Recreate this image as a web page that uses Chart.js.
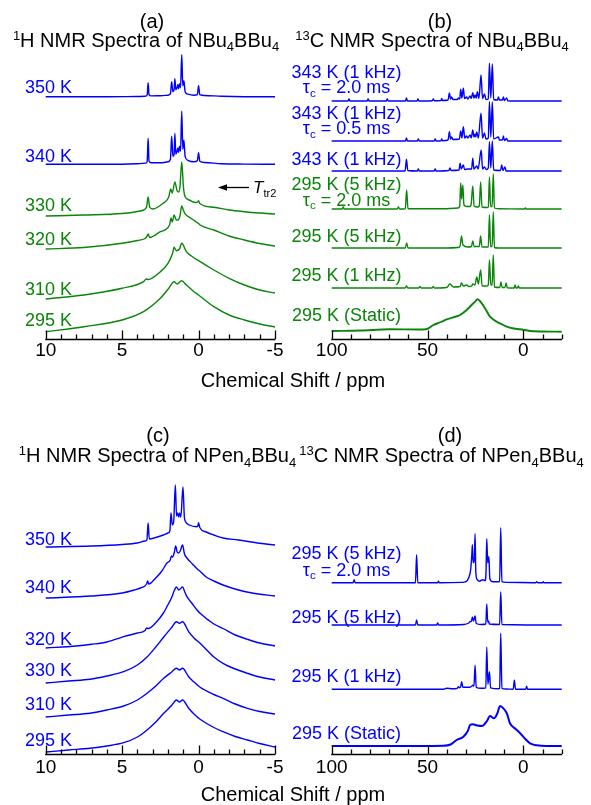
<!DOCTYPE html>
<html>
<head>
<meta charset="utf-8">
<script src="https://cdn.jsdelivr.net/npm/chart.js@4.4.1/dist/chart.umd.min.js"></script>
<style>
  body { margin: 0; width: 591px; height: 805px; background: #fff; position: relative; overflow: hidden;
         font-family: "Liberation Sans", Arial, sans-serif; }
  canvas { position: absolute; }
  .t { position: absolute; white-space: nowrap; }
  .t sub, .t sup { font-size: 0.65em; line-height: 0; position: relative; vertical-align: baseline; }
  .t sup { top: -0.55em; }
  .t sub { top: 0.32em; }
</style>
</head>
<body>
<canvas id="cA" width="290" height="319" style="left:15px;top:50px"></canvas>
<canvas id="cB" width="285" height="319" style="left:306px;top:50px"></canvas>
<canvas id="cC" width="290" height="314" style="left:15px;top:470px"></canvas>
<canvas id="cD" width="285" height="314" style="left:306px;top:470px"></canvas>
<svg width="591" height="805" style="position:absolute;left:0;top:0">
  <line x1="249" y1="187.5" x2="225" y2="187.5" stroke="#000" stroke-width="1.3"/>
  <polygon points="218,187.5 227,184.3 227,190.7" fill="#000"/>
</svg>
<script>
// ---- data: ppm axis ticks ----
const ticksH = [10, 5, 0, -5];
const ticksC = [100, 50, 0];

// ---- (a) 1H NBu4BBu4 : [ppm, intensity] ----
const labelsA = ['350 K', '340 K', '330 K', '320 K', '310 K', '295 K'];
const offsetsA = [242.3, 174.7, 123, 90, 40, 7.3];
const a350 = [[10,0],[6,0],[4,0.2],[3.45,0.6],[3.36,2],[3.3,14],[3.24,2],[3.1,0.8],[2.5,1],[2.0,1.5],[1.84,3],[1.76,15],[1.68,5],[1.6,7],[1.55,18],[1.49,7],[1.41,9],[1.36,12],[1.31,8],[1.25,13],[1.18,9],[1.1,42],[1.03,11],[0.96,16],[0.88,5],[0.7,2.5],[0.3,1.5],[0.08,2],[0,11],[-0.08,2],[-0.4,1.2],[-1.5,0.4],[-3,0],[-5,0]];
const a340 = [[10,0],[6,0],[4,0.5],[3.45,1.2],[3.36,3],[3.3,26],[3.24,3],[3.1,1.5],[2.5,1.5],[2.0,2.5],[1.84,5],[1.76,28],[1.68,8],[1.6,10],[1.55,31],[1.49,10],[1.41,13],[1.36,16],[1.31,12],[1.25,18],[1.18,13],[1.1,53],[1.03,15],[0.96,24],[0.88,8],[0.7,4],[0.3,2.5],[0.08,3.5],[0,11.5],[-0.08,3],[-0.4,1.8],[-1.5,0.6],[-3,0.2],[-5,0]];
const a330 = [[10,0],[7.5,1],[5,2.5],[4,4.5],[3.6,6],[3.4,9],[3.3,19],[3.2,9],[3.0,7],[2.3,13],[1.95,19],[1.82,27],[1.72,23],[1.55,34],[1.4,25],[1.3,24],[1.22,29],[1.1,54],[1.0,31],[0.9,20],[0.6,16],[0.2,13.5],[0.06,14],[0,15.3],[-0.08,12.5],[-1,8.7],[-2,6],[-3,4.3],[-4,3],[-5,2]];
const a320 = [[10,0],[7.5,1.5],[5,5.7],[4,8.5],[3.5,10.5],[3.38,12.5],[3.3,15],[3.2,11.5],[2.5,17.3],[1.9,24],[1.8,31],[1.72,27],[1.6,34],[1.45,29],[1.35,29],[1.22,33],[1.1,43],[1.0,39],[0.9,35.7],[0.5,30.7],[0.05,26],[0,25.5],[-0.1,24],[-1,19],[-2,13],[-3,9],[-4,5.5],[-5,3]];
const a310 = [[10,0],[7.5,4],[5,10.7],[3.6,17.3],[3.42,20],[3.3,19.5],[2.5,27.3],[2.0,35.7],[1.7,45.7],[1.6,51.7],[1.45,48.3],[1.25,50],[1.1,55.7],[0.8,47.3],[0.4,42.3],[0,38.3],[-1,29],[-2,20.7],[-3,14],[-4,9],[-5,6]];
const a295 = [[10,0],[7.5,5],[5,11.7],[3.6,20],[2.5,33.4],[2.0,42.4],[1.6,50],[1.4,47.7],[1.1,51],[0.8,46.7],[0.3,40],[0,36.7],[-1,25],[-2,16.7],[-3,11.7],[-4,7.7],[-5,4.7]];

// ---- (b) 13C NBu4BBu4 ----
const labelsB = ['343 K (1 kHz)', 'τ<sub>c</sub> = 2.0 ms', '343 K (1 kHz)', 'τ<sub>c</sub> = 0.5 ms', '343 K (1 kHz)',
                 '295 K (5 kHz)', 'τ<sub>c</sub> = 2.0 ms', '295 K (5 kHz)', '295 K (1 kHz)', '295 K (Static)'];
const offsetsB = [238, 198, 168, 130, 91, 51, 8];
const b1 = [[100,0],[91.5,0],[91,2],[90.5,0],[81.5,0],[81,2],[80.5,0],[71.5,0],[71,2],[70.5,0],[61.5,0],[61,3],[60.5,0],[55.5,0],[55,2],[54.5,0],[47.5,0.3],[47,2],[46.5,0.3],[43,0.5],[42.6,2.5],[42.2,0.5],[39.3,1],[38.6,8],[38,2],[37.4,4],[36.8,1.5],[34.4,1.5],[33.9,3],[33.2,2],[32.7,11.7],[32.1,3],[31.3,12.7],[30.7,2.5],[29.6,4],[29,2],[27.8,5],[27.2,2.5],[26.4,8.3],[25.8,3],[25.2,6],[24.6,3],[24,9.3],[23.2,2.5],[22.1,26],[21.3,2.5],[20.3,7],[19.5,1.5],[18.3,2],[17.7,37.7],[17,3],[16.2,37],[15.5,1.5],[13.5,1],[13,4],[12.5,1],[10.9,1],[10.4,4],[9.9,0.5],[8.7,3],[8.2,0.3],[0,0],[-20,0]];
const b2 = [[100,0],[61.5,0],[61,3],[60.5,0],[55.3,0],[54.8,2],[54.3,0],[46.5,0],[46,2],[45.5,0],[43,0.3],[42.6,2],[42.2,0.3],[39.3,1],[38.6,9.3],[38,2],[37.4,4],[36.8,1.5],[33.4,2],[32.7,10],[32.1,3],[31.3,14.3],[30.6,3],[29.6,5],[29,3],[27.8,6],[27.2,3],[26.4,11],[25.8,4],[25.2,7],[24.8,4],[24.3,9],[23.5,3],[22.1,27.7],[21.3,3],[20.3,8],[19.5,2],[18.3,3],[17.7,39.3],[17,4],[16.2,39],[15.5,2],[13,4],[12.5,1],[10.9,1],[10.4,5],[9.9,0.5],[8.7,2.5],[8.2,0],[-20,0]];
const b3 = [[100,0],[61.7,0],[61,11.7],[60.3,0.5],[55.3,0],[54.8,2],[54.3,0],[46.5,0],[46,2],[45.5,0],[38.9,0.5],[38.3,3],[37.7,0.5],[33.6,1],[33,7.7],[32.4,2],[31.3,6],[30.7,1.5],[29,2],[27,2],[26.4,12.7],[25.8,2],[24.3,5],[23.6,2],[22,21],[21.3,2],[20.3,4],[19.3,1.5],[18.3,3],[17.7,29.3],[17,3],[16.2,30],[15.5,1],[11.9,0.5],[11.3,6],[10.7,0.5],[9.6,4],[9,0],[-20,0]];
const b4 = [[100,0],[94.5,0],[94,2],[93.5,0],[65.8,0],[65.2,2],[64.6,0],[61.6,0.3],[60.9,19],[60.2,0.3],[40,0.3],[34,1],[33.2,3],[32.7,26],[32.2,10],[31.6,24],[31,4],[29.5,2.5],[28,2.5],[27.3,4],[26.4,23],[25.7,3],[24,2],[23,3],[22.3,27],[21.6,2],[19,1.5],[18.3,2],[17.7,32],[17.1,2.5],[16.3,2.5],[15.7,35],[15.1,1],[13,0.3],[0,0],[-0.5,0],[-1,1],[-1.5,0],[-20,0]];
const b5 = [[100,0],[61.6,0],[60.9,5],[60.2,0],[40,0],[34,0.5],[33,2],[32.3,12],[31.5,3],[29,1],[27.1,1.5],[26.4,7],[25.7,1.5],[23,1.5],[22.3,12],[21.6,1],[18.3,1],[17.7,33],[17.1,1.5],[16.3,1.5],[15.7,36],[15.1,0.5],[13,0],[-20,0]];
const b6 = [[100,0],[61.7,0],[61,2],[60.3,0],[54.6,0],[54,1.5],[53.4,0],[47.6,0],[47,1.5],[46.4,0],[40,0.5],[38.3,4],[36.5,1],[33,1.5],[32.3,5],[31.3,2],[29.6,3],[28.5,1.5],[27,2],[26.4,4],[25.3,3],[24.3,11],[23.5,4],[22.3,18],[21.5,2],[19,2],[18.3,3],[17.7,28],[17,3],[16.3,3],[15.7,33],[15.1,1],[12.3,0.5],[11.7,6],[11.1,0.5],[9.6,0.5],[9,5],[8.4,0.3],[4.8,0],[4.3,3],[3.8,0],[3.1,0],[2.6,2],[2.1,0],[-20,0]];
const b7 = [[100,0],[85,0.5],[69.6,1.7],[55,1.5],[50.8,1.7],[47,6],[43,9],[40,11.7],[36.5,13.7],[33,16],[29.6,21],[27,26],[25.2,29.3],[24,31.7],[21.7,27.7],[19.5,21],[17.4,14.3],[13.9,9.3],[11,6.5],[8.7,4.3],[5,2.5],[1.7,1.7],[-3.5,0],[-10,-0.5],[-20,-0.7]];

// ---- (c) 1H NPen4BBu4 ----
const labelsC = ['350 K', '340 K', '320 K', '330 K', '310 K', '295 K'];
const offsetsC = [207, 156, 106, 71, 37, 2];
const c350 = [[10,0],[7,1],[5,2.5],[4,4],[3.5,6],[3.38,7],[3.3,24],[3.22,8],[2.8,9.5],[2.3,12],[2.0,14],[1.88,16],[1.8,34],[1.72,22],[1.63,25],[1.52,62],[1.44,31],[1.36,34],[1.3,30],[1.24,34],[1.16,30],[1.02,60],[0.93,30],[0.85,25.3],[0.6,22],[0.15,20.3],[0.05,21],[0,24.3],[-0.08,19.5],[-0.5,15],[-1,12],[-1.6,9],[-2.6,7],[-4,3.7],[-5,2]];
const c340 = [[10,0],[7,2],[5,5],[4.2,8],[3.8,10],[3.4,14],[3.33,17],[3.26,14],[2.8,20],[2.4,27],[2.07,35],[1.85,38],[1.78,42],[1.7,41],[1.58,46],[1.5,52],[1.4,46],[1.3,45],[1.2,47],[1.05,53],[0.92,44],[0.76,40],[0.4,34],[0.05,28.5],[0,28],[-0.5,21],[-1,17],[-1.6,13],[-2.5,8.5],[-3.5,5],[-5,2]];
const c320 = [[10,0],[8,2],[7,3.7],[6,6],[4.9,11.3],[4,15],[3.5,17.5],[3.4,20],[3.3,19.5],[2.7,27],[2.3,35],[2.07,41.3],[1.74,51.3],[1.6,57],[1.45,61],[1.3,58],[1.2,59],[1.05,61],[0.9,56],[0.76,51.3],[0.4,44],[0.1,38],[-0.1,34.7],[-1,24],[-1.6,19.5],[-2.4,13],[-3.2,8.7],[-4,5],[-5,2]];
const c330 = [[10,0],[8.5,2],[7.1,3.7],[6,7],[4.9,11.3],[4,18],[3.37,26],[2.8,36],[2.28,46],[1.74,56],[1.45,61.3],[1.25,59.5],[1.05,61.3],[0.65,51.3],[0.3,45],[-0.1,39.7],[-1,26],[-1.6,19.7],[-2.4,14],[-3.2,9.7],[-4,6],[-5,3]];
const c310 = [[10,0],[8.5,2],[7.1,3.7],[6,7],[4.9,11],[4,17],[3.37,23.7],[2.8,31],[2.28,38.7],[1.74,45.3],[1.45,48.7],[1.25,47],[1.05,48.7],[0.65,40.3],[0.3,35],[-0.1,29.7],[-1,22.5],[-1.6,18.7],[-2.4,13],[-3.2,8.7],[-4,5.5],[-5,3]];
const c295 = [[10,0],[8.5,2],[7.1,3.7],[6,6],[4.9,9.3],[4,15],[3.37,22],[2.8,30],[2.28,38.7],[1.74,47],[1.45,52],[1.25,50],[1.05,52],[0.65,43.7],[0.3,38],[-0.1,32.7],[-1,24.5],[-1.6,20.3],[-2.4,15.5],[-3.2,12],[-4,8.5],[-5,5]];

// ---- (d) 13C NPen4BBu4 ----
const labelsD = ['295 K (5 kHz)', 'τ<sub>c</sub> = 2.0 ms', '295 K (5 kHz)', '295 K (1 kHz)', '295 K (Static)'];
const offsetsD = [171.3, 129, 64.7, 8];
const d1 = [[100,0],[88.8,0],[88.3,3],[87.8,0],[56.3,0],[55.7,28],[55.1,0],[44.8,0],[44.3,1.5],[43.8,0],[32,0.3],[30,1],[28.5,5],[27.5,13],[26.9,28],[26.6,38],[26.2,20],[25.6,22],[25.2,49],[24.8,10],[24,3],[22.9,1.5],[21.2,3],[20,2],[19.5,10],[19.1,44],[18.6,20],[18,26],[17.5,4],[16,1],[12.4,1],[11.8,55],[11.2,1],[9,0.3],[-6.5,0],[-7,1],[-7.5,0],[-10,0],[-10.4,1],[-10.8,0],[-20,0]];
const d2 = [[100,0],[56.3,0],[55.7,5],[55.1,0],[45.2,0],[44.7,2],[44.2,0],[31,0.5],[28.5,2],[27.8,3.3],[27.1,4],[26.6,8],[26,4],[25.2,9],[24.6,1.5],[22,0.5],[19.6,1],[19.1,21],[18.6,3],[18.2,4],[17.7,1],[12.4,0.5],[11.8,33],[11.2,0.5],[-20,0]];
const d3 = [[100,0],[42,0],[40,1],[37,0.5],[34.5,1],[33.9,2.7],[33.3,1.5],[32.7,2.5],[32.2,7.7],[31.6,2],[28,2],[27,3],[26.4,4],[25.8,3],[25.2,24],[24.6,2],[22,1],[19.6,1.5],[19.1,42],[18.5,5],[17.7,17.7],[17.1,1.5],[13,0.5],[12.4,1],[11.8,56],[11.2,1],[9,0.3],[5.3,0],[4.7,9],[4.1,0],[-1.2,0],[-1.7,3],[-2.2,0],[-20,0]];
const d4 = [[100,0],[70,0],[41.7,0.3],[38,1.5],[34.8,6],[31.3,9.3],[29,15],[27.8,21],[26.4,21.7],[24,20.5],[21.7,20],[19,25],[17.4,30],[15.3,27.7],[13.5,33],[12.2,40],[10.4,37.7],[8.5,32],[7,22.7],[4,17],[1.7,12.7],[-1,7],[-3.5,2.7],[-7,0.7],[-12,0],[-20,0]];

// ---- styles ----
const BLUE = '#0000ff';
const GREEN = '#0a850a';
const FONT = '"Liberation Sans", Arial, sans-serif';

// draws the inward tick marks and the axis line on the x scale
const axisTicks = {
    id: 'axisTicks',
    afterDraw(chart, args, opts) {
        const s = chart.scales.x;
        const ctx = chart.ctx;
        const y = chart.chartArea.bottom;
        ctx.save();
        ctx.strokeStyle = '#000';
        ctx.lineWidth = 1.3;
        ctx.beginPath();
        ctx.moveTo(chart.chartArea.left - 0.5, y + 0.5);
        ctx.lineTo(chart.chartArea.right + 0.5, y + 0.5);
        for (let v = opts.min; v <= opts.max + 1e-9; v += opts.step) {
            const x = Math.round(s.getPixelForValue(v)) + 0.5;
            const len = Math.abs(v % opts.major) < 1e-9 ? 8.5 : 4.5;
            ctx.moveTo(x, y);
            ctx.lineTo(x, y - len);
        }
        ctx.stroke();
        ctx.restore();
    }
};

function makePanel(id, traces, offsets, colors, cfg) {
    const canvas = document.getElementById(id);
    const datasets = traces.map((tr, i) => ({
        data: tr.map(([x, y]) => ({ x, y: y + offsets[i] })),
        borderColor: colors[i],
        borderWidth: cfg.widths ? cfg.widths[i] : 1.4,
        pointRadius: 0,
        fill: false,
        clip: false,
        cubicInterpolationMode: 'monotone'
    }));
    return new Chart(canvas, {
        type: 'line',
        data: { datasets },
        plugins: [axisTicks],
        options: {
            responsive: false,
            animation: false,
            events: [],
            devicePixelRatio: 1,
            layout: { padding: { left: cfg.padL, right: cfg.padR, top: 0, bottom: 0 } },
            plugins: {
                legend: { display: false },
                tooltip: { enabled: false },
                axisTicks: { min: cfg.min, max: cfg.max, step: cfg.step, major: cfg.major }
            },
            scales: {
                x: {
                    type: 'linear',
                    reverse: true,
                    min: cfg.min,
                    max: cfg.max,
                    afterBuildTicks: s => { s.ticks = cfg.ticks.map(v => ({ value: v })); },
                    afterFit: s => { s.height = 30; },
                    grid: { display: false, drawTicks: false },
                    border: { display: false },
                    ticks: {
                        color: '#000',
                        padding: cfg.tickPad,
                        maxRotation: 0,
                        autoSkip: false,
                        font: { family: FONT, size: 19 },
                        callback: v => String(v)
                    }
                },
                y: { display: false, min: 0, max: cfg.height }
            }
        }
    });
}

makePanel('cA', [a350, a340, a330, a320, a310, a295], offsetsA,
    [BLUE, BLUE, GREEN, GREEN, GREEN, GREEN],
    { min: -5, max: 10, step: 1, major: 5, ticks: ticksH, padL: 30.7, padR: 30, height: 289, tickPad: 0 });
makePanel('cB', [b1, b2, b3, b4, b5, b6, b7], offsetsB,
    [BLUE, BLUE, BLUE, GREEN, GREEN, GREEN, GREEN],
    { min: -20, max: 100, step: 10, major: 50, ticks: ticksC, padL: 25.7, padR: 29.3, height: 289, tickPad: 0,
      widths: [1.4, 1.4, 1.4, 1.4, 1.4, 1.4, 1.9] });
makePanel('cC', [c350, c340, c320, c330, c310, c295], offsetsC,
    [BLUE, BLUE, BLUE, BLUE, BLUE, BLUE],
    { min: -5, max: 10, step: 1, major: 5, ticks: ticksH, padL: 30.7, padR: 30, height: 284, tickPad: 2 });
makePanel('cD', [d1, d2, d3, d4], offsetsD,
    [BLUE, BLUE, BLUE, BLUE],
    { min: -20, max: 100, step: 10, major: 50, ticks: ticksC, padL: 25.7, padR: 29.3, height: 284, tickPad: 2,
      widths: [1.4, 1.4, 1.4, 2] });

// ---- text ----
function addText(html, x, baseline, size, color, align, italic) {
    const el = document.createElement('div');
    el.className = 't';
    el.innerHTML = html;
    el.style.fontSize = size + 'px';
    el.style.lineHeight = size + 'px';
    el.style.color = color;
    el.style.top = (baseline - 0.8465 * size) + 'px';
    el.style.left = x + 'px';
    if (align === 'center') el.style.transform = 'translateX(-50%)';
    document.body.appendChild(el);
}

addText('(a)', 152, 27.5, 20, '#000', 'center');
addText('<sup>1</sup>H NMR Spectra of NBu<sub>4</sub>BBu<sub>4</sub>', 146, 47, 20, '#000', 'center');
addText('(b)', 440, 27.5, 20, '#000', 'center');
addText('<sup>13</sup>C NMR Spectra of NBu<sub>4</sub>BBu<sub>4</sub>', 432, 47, 20, '#000', 'center');
addText('(c)', 158, 441.7, 20, '#000', 'center');
addText('<sup>1</sup>H NMR Spectra of NPen<sub>4</sub>BBu<sub>4</sub>', 157.5, 462.3, 20, '#000', 'center');
addText('(d)', 450, 441.7, 20, '#000', 'center');
addText('<sup>13</sup>C NMR Spectra of NPen<sub>4</sub>BBu<sub>4</sub>', 441.5, 462.3, 20, '#000', 'center');
addText('Chemical Shift / ppm', 293, 387, 20, '#000', 'center');
addText('Chemical Shift / ppm', 293, 801, 20, '#000', 'center');
addText('<i>T</i><sub>tr2</sub>', 253, 193.5, 17, '#000', 'left');

const baseA = [93.3, 162.7, 211.7, 245.7, 295, 326.7];
const colA = [BLUE, BLUE, GREEN, GREEN, GREEN, GREEN];
labelsA.forEach((t, i) => addText(t, 25, baseA[i], 18, colA[i], 'left'));

const baseB = [78.3, 93.5, 119.3, 134.5, 165, 190, 206, 242.7, 281.7, 321.7];
const colB = [BLUE, BLUE, BLUE, BLUE, BLUE, GREEN, GREEN, GREEN, GREEN, GREEN];
labelsB.forEach((t, i) => addText(t, 346.5, baseB[i], 18, colB[i], 'center'));

const baseC = [545, 593.3, 645, 676.7, 710, 746];
labelsC.forEach((t, i) => addText(t, 25, baseC[i], 18, BLUE, 'left'));

const baseD = [559.3, 576, 623.3, 682.7, 739.3];
labelsD.forEach((t, i) => addText(t, 346.5, baseD[i], 18, BLUE, 'center'));
</script>
</body>
</html>
